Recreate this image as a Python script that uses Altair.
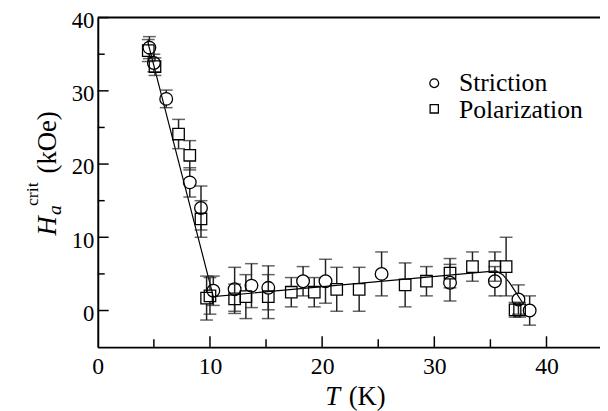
import altair as alt
import pandas as pd

# ---- data ----
stric_T = [4.6, 5.0, 6.1, 8.2, 9.2, 10.3, 12.2, 13.7, 15.2, 18.3, 20.3, 25.3, 31.4, 35.4, 37.5, 38.5]
stric_H = [35.9, 33.8, 28.9, 17.5, 14.0, 2.7, 2.9, 3.4, 3.1, 4.0, 4.0, 5.0, 3.8, 4.0, 1.5, 0.0]
stric_E = [1.5, 1.2, 1.2, 2.0, 3.0, 2.0, 3.0, 3.0, 3.0, 2.0, 3.0, 3.0, 2.5, 2.0, 2.0, 2.0]

pol_T = [4.5, 5.1, 7.2, 8.2, 9.2, 9.7, 10.0, 12.2, 13.2, 15.2, 17.25, 19.3, 21.3, 23.3, 27.4, 29.3, 31.4, 33.4, 35.4, 36.4, 37.2, 37.6]
pol_H = [35.5, 33.3, 24.1, 21.2, 12.5, 1.7, 2.0, 1.6, 1.9, 1.9, 2.5, 2.5, 2.9, 2.9, 3.5, 4.0, 5.1, 6.0, 6.0, 6.0, 0.1, 0.1]
pol_E = [1.5, 1.2, 2.0, 2.0, 2.5, 3.0, 2.5, 2.0, 3.0, 3.0, 2.0, 2.0, 3.0, 3.0, 3.0, 2.0, 2.0, 2.0, 2.0, 4.0, 1.0, 1.0]

fit_T = [4.5, 10.3, 35.5, 36.1, 36.7, 37.3, 37.9]
fit_H = [36.4, 1.9, 5.4, 4.9, 3.8, 2.4, 1.0]

x_major = [0, 10, 20, 30, 40]
x_minor = [5, 15, 25, 35]
y_major = [0, 10, 20, 30, 40]
y_minor = [5, 15, 25, 35]

XMAX = 44.77
W, H = 509, 334
FONT = "Liberation Serif"
GAP = 0.8  # marker half-height in data units (bar hidden inside marker)

def err_df(T, Hv, E):
    return pd.DataFrame({
        "T": T, "H": Hv,
        "lo": [h - e for h, e in zip(Hv, E)],
        "hi": [h + e for h, e in zip(Hv, E)],
        "lo_in": [h - GAP for h in Hv],
        "hi_in": [h + GAP for h in Hv],
    })

dS = err_df(stric_T, stric_H, stric_E)
dP = err_df(pol_T, pol_H, pol_E)
dE = pd.concat([dS, dP], ignore_index=True)
dFit = pd.DataFrame({"T": fit_T, "H": fit_H})

xs = alt.Scale(domain=[0, XMAX], nice=False, zero=False)
ys = alt.Scale(domain=[-5, 40], nice=False, zero=False)
ECOL = "#222222"

AX = alt.Axis(values=x_major, ticks=False, grid=False, domain=True, domainWidth=2,
              domainColor="black", labelFont=FONT, labelFontSize=24, labelColor="black",
              labelPadding=8, title=None, format="d", labelFlush=False, labelOverlap=False)
AY = alt.Axis(values=y_major, ticks=False, grid=False, domain=True, domainWidth=2,
              domainColor="black", labelFont=FONT, labelFontSize=23, labelColor="black",
              labelPadding=4, labelOffset=3, title=None, format="d", labelOverlap=False,
              labelFlush=False)

def X(f):
    return alt.X(f, scale=xs, axis=AX, title=None)

def Y(f):
    return alt.Y(f, scale=ys, axis=AY, title=None)

fit = alt.Chart(dFit).mark_line(color="black", strokeWidth=1.2).encode(x=X("T:Q"), y=Y("H:Q"))

bar_lo = alt.Chart(dE).mark_rule(color=ECOL, strokeWidth=1.5).encode(
    x=X("T:Q"), y=Y("lo:Q"), y2="lo_in:Q")
bar_hi = alt.Chart(dE).mark_rule(color=ECOL, strokeWidth=1.5).encode(
    x=X("T:Q"), y=Y("hi_in:Q"), y2="hi:Q")
cap_lo = alt.Chart(dE).mark_tick(color=ECOL, thickness=1.5, size=13, orient="horizontal").encode(
    x=X("T:Q"), y=Y("lo:Q"))
cap_hi = alt.Chart(dE).mark_tick(color=ECOL, thickness=1.5, size=13, orient="horizontal").encode(
    x=X("T:Q"), y=Y("hi:Q"))

circ = alt.Chart(dS).mark_point(shape="circle", filled=False, color="black", strokeWidth=1.3, size=165, opacity=1).encode(
    x=X("T:Q"), y=Y("H:Q"))
sq = alt.Chart(dP).mark_point(shape="square", filled=False, color="black", strokeWidth=1.3, size=135, opacity=1).encode(
    x=X("T:Q"), y=Y("H:Q"))

# inward ticks
xmaj = alt.Chart(pd.DataFrame({"v": x_major[1:]})).mark_rule(color="black", strokeWidth=1.5).encode(
    x=X("v:Q"), y=alt.value(H), y2=alt.value(H - 11))
xmin = alt.Chart(pd.DataFrame({"v": x_minor})).mark_rule(color="black", strokeWidth=1.5).encode(
    x=X("v:Q"), y=alt.value(H), y2=alt.value(H - 8))
ymaj = alt.Chart(pd.DataFrame({"v": y_major})).mark_rule(color="black", strokeWidth=1.5).encode(
    y=Y("v:Q"), x=alt.value(0), x2=alt.value(11))
ymin = alt.Chart(pd.DataFrame({"v": y_minor})).mark_rule(color="black", strokeWidth=1.5).encode(
    y=Y("v:Q"), x=alt.value(0), x2=alt.value(7))
top = alt.Chart(alt.Data(values=[{}])).mark_rule(color="black", strokeWidth=2).encode(
    x=alt.value(0), x2=alt.value(W), y=alt.value(0))

one = alt.Data(values=[{}])

def txt(s, x, y, size, italic=False, angle=0, align="left"):
    kw = dict(text=s, font=FONT, fontSize=size, align=align, baseline="alphabetic", color="black")
    if italic:
        kw["fontStyle"] = "italic"
    if angle:
        kw["angle"] = angle
    return alt.Chart(one).mark_text(**kw).encode(x=alt.value(x), y=alt.value(y))

leg_c = alt.Chart(one).mark_point(shape="circle", filled=False, color="black", strokeWidth=1.3, size=80, opacity=1).encode(
    x=alt.value(341), y=alt.value(66.5))
leg_s = alt.Chart(one).mark_point(shape="square", filled=False, color="black", strokeWidth=1.3, size=70, opacity=1).encode(
    x=alt.value(341), y=alt.value(92.5))

texts = [
    txt("Striction", 366, 74.5, 26),
    txt("Polarization", 366, 101.5, 26),
    txt("T", 238, 393, 27, italic=True, align="center"),
    txt("(K)", 273, 393, 27, align="center"),
    txt("H", -42, 211, 27, italic=True, angle=270, align="center"),
    txt("a", -37, 195, 20, italic=True, angle=270, align="center"),
    txt("crit", -61, 179, 18, angle=270, align="center"),
    txt("(kOe)", -42, 126.5, 27, angle=270, align="center"),
]

chart = alt.layer(
    fit, bar_lo, bar_hi, cap_lo, cap_hi, circ, sq,
    xmaj, xmin, ymaj, ymin, top, leg_c, leg_s, *texts
).properties(
    width=W, height=H,
    autosize=alt.AutoSizeParams(type="none"),
    padding={"left": 91, "top": 7, "right": 0, "bottom": 62},
).configure_view(stroke=None).configure_text(font=FONT).configure_axis(labelFont=FONT)

chart.save("out.html", embed_options={"renderer": "svg", "actions": False})
